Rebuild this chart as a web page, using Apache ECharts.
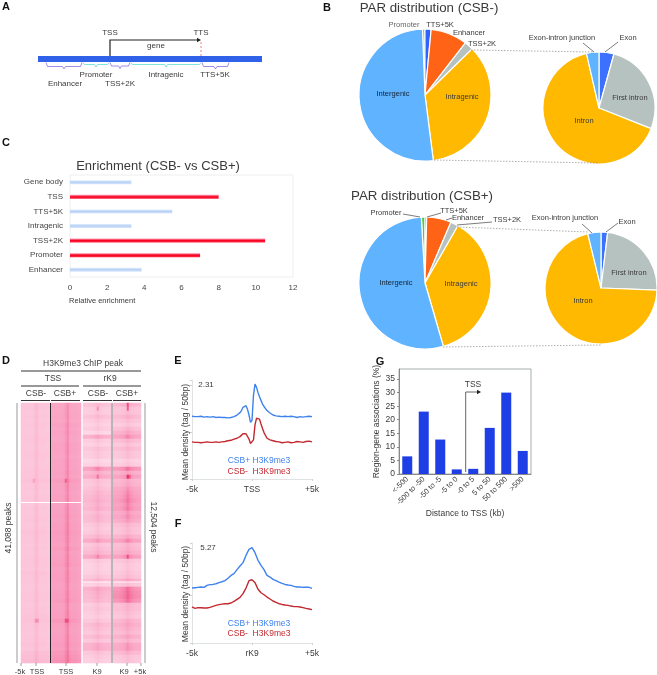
<!DOCTYPE html>
<html>
<head>
<meta charset="utf-8">
<style>
  html, body { margin: 0; padding: 0; background: #fff; }
  #chart { width: 657px; height: 675px; filter: blur(0.35px); }
</style>
<script src="https://cdn.jsdelivr.net/npm/echarts@6/dist/echarts.min.js"></script>
</head>
<body>
<div id="chart"></div>
<script>
// panel B: share of peaks (%), clockwise from the top of each pie
const parNames = ['Promoter', 'TTS+5K', 'Enhancer', 'TSS+2K', 'Intragenic', 'Intergenic'];
const parMinus = [0.6, 1.5, 9, 2.2, 35.3, 51.4];
const parPlus = [0.9, 0.4, 6, 1.9, 37.2, 53.6];
const intraNames = ['Exon', 'First intron', 'Intron', 'Exon-intron junction'];
const intraMinus = [4.3, 26.7, 65.4, 3.6];
const intraPlus = [1.9, 23.7, 70.6, 3.8];

// panel C
const enrichNames = ['Gene body', 'TSS', 'TTS+5K', 'Intragenic', 'TSS+2K', 'Promoter', 'Enhancer'];
const enrichValues = [3.3, 8, 5.5, 3.3, 10.5, 7, 3.85];
const enrichHighlighted = ['TSS', 'TSS+2K', 'Promoter'];

// panel D: row levels read top to bottom, one profile across the columns of each block
const tssMinusRows = [3.0,3.0,2.9,3.0,2.9,3.0,2.9,2.9,3.0,3.0,2.9,2.9,3.0,3.0,2.9,2.9,3.0,3.0,3.0,3.2,3.0,3.0,2.9,3.0,3.0,
  2.9,3.0,2.9,3.0,3.0,2.9,3.0,3.1,3.0,3.0,2.9,3.0,2.9,3.0,3.0,3.0,2.9,3.1,3.0,3.0,2.9,2.9,3.0,3.0,3.0,2.9,3.0,3.0,3.1,3.2,3.0,3.0,2.9,3.0,3.0,3.1,3.0,3.3,3.4,3.5];
const tssPlusRows = [4.6,4.6,4.7,4.7,4.6,4.8,4.7,4.8,4.7,4.7,4.8,4.8,4.8,4.7,4.8,4.8,4.8,4.9,4.8,5.1,4.9,4.9,4.8,4.9,4.9,
  4.8,4.9,4.9,5.0,4.9,5.0,5.0,5.1,5.0,5.0,4.9,5.1,4.9,5.0,5.0,5.1,4.9,5.0,5.0,5.0,4.9,4.9,5.0,5.0,5.1,4.9,4.9,5.0,5.0,5.2,5.0,4.9,4.9,5.0,5.0,5.1,5.0,5.2,5.3,5.4];
const k9MinusRows = [3.2,2.7,2.7,3.2,2.7,2.4,2.7,2.1,4.2,2.7,2.4,3,2.7,2.7,2.1,2.4,5,3.8,4.4,3,2.9,3.2,3.5,3.7,3.9,3.6,3.9,3.3,3.6,3.5,2.9,2.7,
  2.9,3.5,4.5,3,3.3,3.6,4.7,2.7,2.4,2.4,2.5,2.9,3.6,2.4,4.2,3.8,3.7,3.5,2.7,2.9,2.7,2.5,2.9,3.5,3.2,2.9,3.5,2.9,4,4.1,3,2.7,2.5];
const k9PlusRows = [3.9,3.1,3.1,3.7,3.1,2.7,3.4,4.1,4.9,3.5,2.9,3.5,3,3,2.4,2.7,5.4,4.2,5,3.8,4,4.6,4.9,5.1,5.3,5,5.2,4.5,4.8,4.4,3.5,3.2,
  3.2,4,5,3.5,3.7,4.1,5.1,3,2.7,2.7,2.9,3.2,4.2,3,5.5,5.7,5.8,5.5,3.5,3.5,3.2,3,3.8,4.2,3.8,3.5,4.2,3.5,4.5,4.6,3.7,3,2.9];
const tssMinusColumns = [1,1,1,1,1,1,1.03,1.2,1.12,1,1,1,1,.98,.98];
const tssPlusColumns = [.98,1,1,1,1,1,1.02,1.1,1.2,1.04,1,1,1,.98,.96];
const k9Columns = [.95,.95,.95,.97,1,1.04,1.1,1.2,1.1,1.04,1,.97,.95,.95];
// [block, row, column, level] for the few bright spots
const hotCells = [[0,19,6,5],[1,19,7,7],[0,54,7,5.5],[0,54,8,5.5],[1,54,7,7.5],[1,54,8,7.5],
  [2,1,7,5.5],[3,0,7,7.5],[3,1,7,7],[2,18,7,6.5],[3,18,7,8.5],[3,18,8,7],[2,38,7,6],[3,38,7,7.5]];

// panels E and F: position (kb) and mean density
const tssKb = [-5,-4.75,-4.5,-4.25,-4,-3.75,-3.5,-3.25,-3,-2.75,-2.5,-2.25,-2,-1.75,-1.5,-1.25,-1,-.875,-.75,-.625,-.5,-.375,-.25,-.125,0,.125,.25,.375,.5,.625,.75,.875,1,1.25,1.5,1.75,2,2.25,2.5,2.75,3,3.25,3.5,3.75,4,4.25,4.5,4.75,5];
const tssPlus = [1.54,1.53,1.53,1.54,1.52,1.53,1.52,1.53,1.51,1.52,1.51,1.51,1.50,1.51,1.53,1.57,1.63,1.68,1.76,1.80,1.80,1.71,1.57,1.39,1.44,2.06,2.33,2.25,2.12,2.02,1.93,1.84,1.78,1.68,1.62,1.57,1.55,1.54,1.53,1.54,1.53,1.54,1.53,1.51,1.53,1.52,1.53,1.54,1.53];
const tssMinus = [.91,.90,.90,.89,.90,.91,.90,.90,.91,.90,.91,.92,.94,.95,.98,1.00,1.04,1.08,1.11,1.13,1.11,1.08,.98,.87,.86,.96,1.33,1.49,1.53,1.47,1.35,1.24,1.14,1.00,.96,.94,.92,.91,.89,.90,.91,.89,.90,.92,.91,.90,.92,.93,.91];
const k9Kb = [-5,-4.75,-4.5,-4.25,-4,-3.75,-3.5,-3.25,-3,-2.75,-2.5,-2.25,-2,-1.75,-1.5,-1.25,-1,-.75,-.5,-.25,0,.25,.5,.75,1,1.25,1.5,1.75,2,2.25,2.5,2.75,3,3.25,3.5,3.75,4,4.25,4.5,4.75,5];
const k9Plus = [3.05,3.07,3.09,3.11,3.09,3.20,3.24,3.25,3.29,3.35,3.40,3.46,3.59,3.75,3.85,4.07,4.27,4.46,4.86,5.20,5.29,5.01,4.59,4.31,4.07,3.75,3.66,3.53,3.46,3.38,3.31,3.25,3.22,3.20,3.14,3.11,3.11,3.09,3.09,3.09,3.03];
const k9Minus = [2.00,1.92,1.96,1.96,1.94,1.94,1.98,2.03,2.09,2.13,2.16,2.18,2.18,2.22,2.31,2.42,2.53,2.74,3.05,3.46,3.51,3.35,2.98,2.79,2.68,2.55,2.44,2.33,2.26,2.18,2.14,2.11,2.09,2.05,2.02,2.02,2.00,1.96,1.92,1.89,1.85];

// panel G
const distanceBins = ['<-500', '-500 to -50', '-50 to -5', '-5 to 0', '-0 to 5', '5 to 50', '50 to 500', '>500'];
const distanceValues = [6.5, 23, 12.7, 1.7, 1.9, 17, 30, 8.5];

const FONT = '"Liberation Sans", Arial, sans-serif';
const pieColors = {
  'Promoter': '#58c840', 'TTS+5K': '#2f62ff', 'Enhancer': '#ff6416', 'TSS+2K': '#b6c2c0',
  'Intragenic': '#ffb900', 'Intergenic': '#60b3ff',
  'Exon': '#3d70ff', 'First intron': '#b6c2c0', 'Intron': '#ffb900', 'Exon-intron junction': '#60b3ff'
};

function text(x, y, str, size, extra) {
  const o = extra || {};
  return {
    type: 'text', x: x, y: y, z: 50, silent: true, rotation: o.rotation || 0,
    style: {
      text: str, fontSize: size, fontFamily: FONT, fontWeight: o.weight || 'normal',
      fill: o.color || '#3a3a3a', align: o.align || 'center', verticalAlign: 'middle'
    }
  };
}
function seg(points, color, width, dash) {
  return {
    type: 'polyline', z: 50, silent: true, shape: { points: points },
    style: { stroke: color, lineWidth: width || 1, lineDash: dash || null, fill: null }
  };
}
function brace(x1, x2, y, depth, color) {
  const mid = (x1 + x2) / 2;
  return seg([[x1, y], [x1 + 1.5, y + depth - 2.5], [mid - 1.5, y + depth - 2.5], [mid, y + depth], [mid + 1.5, y + depth - 2.5], [x2 - 1.5, y + depth - 2.5], [x2, y]], color, 0.8);
}
function arrowHead(x, y) {
  return { type: 'polygon', z: 50, silent: true, shape: { points: [[x, y - 2.2], [x + 4, y], [x, y + 2.2]] }, style: { fill: '#222' } };
}

function pie(names, values, cx, cy, r, startAngle) {
  return {
    type: 'pie', center: [cx, cy], radius: [0, r], startAngle: startAngle, silent: true,
    label: { show: false }, labelLine: { show: false }, sort: null,
    itemStyle: { borderColor: '#fff', borderWidth: 1.2 },
    data: names.map((n, i) => ({ name: n, value: values[i], itemStyle: { color: pieColors[n] } }))
  };
}

// heat blocks: rows x columns, then the bright spots on top
function heatSeries(block, rows, columns) {
  const cells = [];
  rows.forEach((level, r) => columns.forEach((c, k) => {
    cells.push([k, r, level * c]);
  }));
  hotCells.filter(h => h[0] === block).forEach(h => {
    cells.find(d => d[0] === h[2] && d[1] === h[1])[2] = h[3];
  });
  return {
    type: 'heatmap', xAxisIndex: 4 + block, yAxisIndex: 4 + block, data: cells, silent: true,
    progressive: 0, itemStyle: { borderWidth: 0 }
  };
}
const indexOf = arr => arr.map((_, i) => i);
const heatX = [tssMinusColumns, tssPlusColumns, k9Columns, k9Columns];
const heatRows = [tssMinusRows, tssPlusRows, k9MinusRows, k9PlusRows];

function densityX(grid, center) {
  return {
    type: 'value', gridIndex: grid, min: -5, max: 5, interval: 5,
    axisLine: { lineStyle: { color: '#dfe3e3' } }, axisTick: { length: 2, lineStyle: { color: '#cfd3d3' } },
    splitLine: { show: false },
    axisLabel: { fontFamily: FONT, fontSize: 8.5, color: '#3a3a3a', margin: 6, hideOverlap: false, formatter: v => v === 0 ? center : (v < 0 ? '-5k' : '+5k') }
  };
}
function densityY(grid, max, interval) {
  return {
    type: 'value', gridIndex: grid, min: 0, max: max, interval: interval,
    axisLine: { show: true, onZero: false, lineStyle: { color: '#dfe3e3' } }, axisTick: { show: true, length: 2, lineStyle: { color: '#cfd3d3' } },
    splitLine: { show: false }, axisLabel: { show: false }
  };
}
function densityLine(grid, xs, ys, color) {
  return {
    type: 'line', xAxisIndex: grid, yAxisIndex: grid, data: xs.map((x, i) => [x, ys[i]]),
    showSymbol: false, clip: false, silent: true, lineStyle: { color: color, width: 1.4 }
  };
}
const hiddenAxis = (grid, data, inverse) => ({
  type: 'category', gridIndex: grid, data: data, show: false, inverse: !!inverse
});

const BLUE = '#3f82ee', RED = '#c3282f';
const graphicItems = [
  // panel letters
  text(6, 7, 'A', 11, { weight: 'bold', color: '#111' }), text(327, 8, 'B', 11, { weight: 'bold', color: '#111' }),
  text(6, 143, 'C', 11, { weight: 'bold', color: '#111' }), text(6, 361, 'D', 11, { weight: 'bold', color: '#111' }),
  text(178, 361, 'E', 11, { weight: 'bold', color: '#111' }), text(178, 524, 'F', 11, { weight: 'bold', color: '#111' }),
  text(380, 362, 'G', 11, { weight: 'bold', color: '#111' }),

  // panel A schematic
  { type: 'rect', z: 45, silent: true, shape: { x: 38, y: 56, width: 224, height: 6 }, style: { fill: '#2f62e8' } },
  seg([[110, 56], [110, 40], [198, 40]], '#222', 1.2), arrowHead(197, 40),
  seg([[201, 42], [201, 56]], '#f0606a', 0.8, [2, 2]),
  brace(46, 82, 62.5, 6.5, '#8a6fe8'), brace(83, 109, 62.5, 4.5, '#63dcd6'), brace(110, 130, 62.5, 6, '#8a6fe8'),
  brace(131, 201, 62.5, 4.5, '#63dcd6'), brace(202, 229, 62.5, 6.5, '#8a6fe8'),
  text(110, 33, 'TSS', 8), text(201, 33, 'TTS', 8), text(156, 46, 'gene', 8),
  text(65, 84, 'Enhancer', 8), text(96, 75, 'Promoter', 8), text(120, 84, 'TSS+2K', 8),
  text(166, 75, 'Intragenic', 8), text(215, 75, 'TTS+5K', 8),

  // panel B, CSB-
  text(429, 8, 'PAR distribution (CSB-)', 13.3),
  text(404, 25, 'Promoter', 7.5, { color: '#666' }), text(440, 25, 'TTS+5K', 7.5), text(469, 33, 'Enhancer', 7.5), text(482, 44, 'TSS+2K', 7.5),
  text(393, 94, 'Intergenic', 7.5, { color: '#123' }), text(462, 97, 'Intragenic', 7.5),
  text(562, 38, 'Exon-intron junction', 7.5), text(628, 38, 'Exon', 7.5),
  text(630, 98, 'First intron', 7.5), text(584, 121, 'Intron', 7.5),
  seg([[583, 43], [594, 52]], '#444', 0.7), seg([[618, 42], [605, 52]], '#444', 0.7),
  seg([[471, 50], [593, 52]], '#777', 0.6, [1.5, 1.5]), seg([[434, 160], [598, 163]], '#777', 0.6, [1.5, 1.5]),

  // panel B, CSB+
  text(422, 196, 'PAR distribution (CSB+)', 13.3),
  text(386, 213, 'Promoter', 7.5), text(454, 211, 'TTS+5K', 7.5), text(468, 218, 'Enhancer', 7.5), text(507, 220, 'TSS+2K', 7.5),
  text(396, 283, 'Intergenic', 7.5, { color: '#123' }), text(461, 284, 'Intragenic', 7.5),
  text(565, 218, 'Exon-intron junction', 7.5), text(627, 222, 'Exon', 7.5),
  text(629, 273, 'First intron', 7.5), text(583, 301, 'Intron', 7.5),
  seg([[403, 214], [420, 217]], '#444', 0.7), seg([[441, 213], [427, 217]], '#444', 0.7),
  seg([[452, 218], [446, 220]], '#444', 0.7), seg([[492, 222], [457, 225]], '#444', 0.7),
  seg([[582, 224], [592, 233]], '#444', 0.7), seg([[618, 223], [606, 232]], '#444', 0.7),
  seg([[457, 227], [588, 232]], '#777', 0.6, [1.5, 1.5]), seg([[443, 347], [601, 345]], '#777', 0.6, [1.5, 1.5]),

  // panel C
  text(158, 166, 'Enrichment (CSB- vs CSB+)', 13),
  text(69, 301, 'Relative enrichment', 7.5, { align: 'left' }),

  // panel D headers
  text(83, 364, 'H3K9me3 ChIP peak', 8.5), seg([[21, 371], [141, 371]], '#333', 1),
  text(53, 379, 'TSS', 8.5), text(110, 379, 'rK9', 8.5),
  seg([[21, 386], [79, 386]], '#333', 1), seg([[83, 386], [141, 386]], '#333', 1),
  text(36, 394, 'CSB-', 8.5), text(65, 394, 'CSB+', 8.5), text(98, 394, 'CSB-', 8.5), text(127, 394, 'CSB+', 8.5),
  seg([[21, 400.5], [50, 400.5]], '#333', 1), seg([[51, 400.5], [80, 400.5]], '#333', 1),
  seg([[83, 400.5], [112, 400.5]], '#333', 1), seg([[113, 400.5], [141, 400.5]], '#333', 1),
  seg([[17, 403], [17, 663]], '#999', 1), seg([[145, 403], [145, 663]], '#999', 1),
  // thin pale gaps in the heat blocks
  seg([[21, 502.5], [81, 502.5]], '#fff', 1), seg([[83, 582], [141, 582]], '#fff', 1.2),
  seg([[50.5, 403], [50.5, 663]], '#222', 1), seg([[112, 403], [112, 663]], '#777', 1),
  text(9, 528, '41,088 peaks', 8.5, { rotation: Math.PI / 2 }), text(153, 527, '12,504 peaks', 8.5, { rotation: -Math.PI / 2 }),
  text(20, 672, '-5k', 7.5), text(37, 672, 'TSS', 7.5), text(66, 672, 'TSS', 7.5), text(97, 672, 'K9', 7.5), text(124, 672, 'K9', 7.5), text(140, 672, '+5k', 7.5),
  seg([[21, 663], [21, 666]], '#777', 0.7), seg([[36, 663], [36, 666]], '#777', 0.7), seg([[66, 663], [66, 666]], '#777', 0.7),
  seg([[97, 663], [97, 666]], '#777', 0.7), seg([[127, 663], [127, 666]], '#777', 0.7), seg([[141, 663], [141, 666]], '#777', 0.7),

  // panel E
  text(186, 432, 'Mean density (tag / 50bp)', 8.5, { rotation: Math.PI / 2 }),
  text(206, 385, '2.31', 8),
  text(259, 461, 'CSB+ H3K9me3', 8.5, { color: BLUE }), text(259, 472, 'CSB-  H3K9me3', 8.5, { color: RED }),

  // panel F
  text(186, 594, 'Mean density (tag / 50bp)', 8.5, { rotation: Math.PI / 2 }),
  text(208, 548, '5.27', 8),
  text(259, 624, 'CSB+ H3K9me3', 8.5, { color: BLUE }), text(259, 634, 'CSB-  H3K9me3', 8.5, { color: RED }),

  // panel G
  seg([[465.7, 472], [465.7, 392], [478, 392]], '#555', 0.9), arrowHead(477, 392),
  text(473, 385, 'TSS', 8.5)
];

const chart = echarts.init(document.getElementById('chart'), null, { renderer: 'canvas' });
chart.setOption({
  animation: false,
  tooltip: { show: false },
  visualMap: {
    show: false, min: 0, max: 10, seriesIndex: [9, 10, 11, 12],
    inRange: { color: ['#ffffff', '#fdcfe0', '#f99fc0', '#ef4f80', '#d8003a'] }
  },
  grid: [
    { left: 70, top: 175, width: 223, height: 102, show: true, borderColor: '#eeeeee', backgroundColor: '#fff' },
    { left: 192, top: 380, width: 120, height: 99 },
    { left: 192, top: 543, width: 120, height: 100 },
    { left: 399, top: 369, width: 132, height: 105, show: true, borderColor: '#a6aeae', borderWidth: 1 },
    { left: 21, top: 403, width: 30, height: 260 },
    { left: 51, top: 403, width: 30, height: 260 },
    { left: 83, top: 403, width: 28, height: 260 },
    { left: 113, top: 403, width: 28, height: 260 }
  ],
  xAxis: [
    {
      type: 'value', gridIndex: 0, min: 0, max: 12, interval: 2, splitLine: { show: false },
      axisLine: { show: false }, axisTick: { show: false },
      axisLabel: { fontFamily: FONT, fontSize: 8, color: '#444', margin: 7 }
    },
    densityX(1, 'TSS'),
    densityX(2, 'rK9'),
    {
      type: 'category', gridIndex: 3, data: distanceBins,
      axisLine: { lineStyle: { color: '#888' } }, axisTick: { show: false },
      axisLabel: { fontFamily: FONT, fontSize: 7.5, color: '#3a3a3a', rotate: 45, interval: 0, margin: 4 },
      name: 'Distance to TSS (kb)', nameLocation: 'middle', nameGap: 27,
      nameTextStyle: { fontFamily: FONT, fontSize: 8.5, color: '#3a3a3a' }
    },
    ...heatX.map((cols, i) => hiddenAxis(4 + i, indexOf(cols)))
  ],
  yAxis: [
    {
      type: 'category', gridIndex: 0, data: enrichNames, inverse: true,
      axisLine: { show: false }, axisTick: { show: false },
      axisLabel: { fontFamily: FONT, fontSize: 8, color: '#444', margin: 7 }
    },
    densityY(1, 2.43, 1.155),
    densityY(2, 5.55, 2.635),
    {
      type: 'value', gridIndex: 3, min: 0, max: 38.7, interval: 5, splitLine: { show: false },
      axisLine: { show: true, lineStyle: { color: '#888' } }, axisTick: { show: true, length: 2, lineStyle: { color: '#888' } },
      axisLabel: { fontFamily: FONT, fontSize: 8.5, color: '#3a3a3a', margin: 4, showMaxLabel: false },
      name: 'Region-gene associations (%)', nameLocation: 'middle', nameGap: 4,
      nameTextStyle: { fontFamily: FONT, fontSize: 8.5, color: '#3a3a3a' }
    },
    ...heatRows.map((rows, i) => hiddenAxis(4 + i, indexOf(rows), true))
  ],
  graphic: { elements: graphicItems },
  series: [
    pie(parNames, parMinus, 425, 95, 66, 92.2),
    pie(intraNames, intraMinus, 599, 108, 56, 90),
    pie(parNames, parPlus, 425, 283, 66, 93.2),
    pie(intraNames, intraPlus, 601, 288, 56, 90),
    {
      type: 'bar', xAxisIndex: 0, yAxisIndex: 0, barWidth: 4, silent: true,
      data: enrichValues.map((v, i) => ({
        value: v,
        itemStyle: {
          color: new echarts.graphic.LinearGradient(0, 0, 0, 1, enrichHighlighted.includes(enrichNames[i])
            ? [{ offset: 0, color: '#ff9db5' }, { offset: 0.5, color: '#f5001e' }, { offset: 1, color: '#ff3048' }]
            : [{ offset: 0, color: '#e3eefc' }, { offset: 0.5, color: '#b4d0f5' }, { offset: 1, color: '#dbe8fb' }])
        }
      }))
    },
    densityLine(1, tssKb, tssPlus, BLUE),
    densityLine(1, tssKb, tssMinus, RED),
    densityLine(2, k9Kb, k9Plus, BLUE),
    {
      type: 'bar', xAxisIndex: 3, yAxisIndex: 3, data: distanceValues, barWidth: 10, silent: true,
      itemStyle: { color: '#1f3fe6' }
    },
    ...heatRows.map((rows, i) => heatSeries(i, rows, heatX[i])),
    densityLine(2, k9Kb, k9Minus, RED)
  ]
});
</script>
</body>
</html>
